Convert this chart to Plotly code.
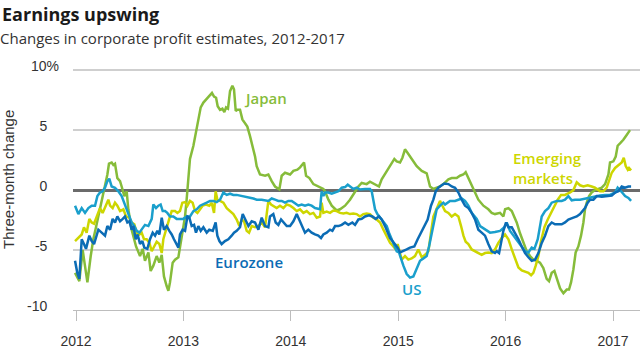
import plotly.graph_objects as go

# ---- data (decimal years, % three-month change) ----
japan_t = [2011.991, 2012.031, 2012.062, 2012.106, 2012.137, 2012.161, 2012.186, 2012.208, 2012.239, 2012.270,
           2012.292, 2012.307, 2012.332, 2012.348, 2012.363, 2012.385, 2012.410, 2012.425, 2012.450, 2012.472,
           2012.487, 2012.518, 2012.559, 2012.596, 2012.621, 2012.642, 2012.674, 2012.695, 2012.720, 2012.751,
           2012.776, 2012.798, 2012.819, 2012.844, 2012.860, 2012.875, 2012.900, 2012.922, 2012.953, 2012.975,
           2012.993, 2013.015, 2013.030, 2013.046, 2013.061, 2013.093, 2013.117, 2013.139, 2013.161, 2013.186,
           2013.217, 2013.248, 2013.266, 2013.285, 2013.304, 2013.319, 2013.341, 2013.363, 2013.381, 2013.397,
           2013.415, 2013.434, 2013.456, 2013.471, 2013.487, 2013.502, 2013.527, 2013.549, 2013.570, 2013.595,
           2013.620, 2013.645, 2013.667, 2013.682, 2013.713, 2013.760, 2013.791, 2013.822, 2013.853, 2013.893,
           2013.915, 2013.946, 2013.993, 2014.024, 2014.061, 2014.086, 2014.123, 2014.142, 2014.173, 2014.210,
           2014.256, 2014.303, 2014.318, 2014.350, 2014.381, 2014.427, 2014.458, 2014.505, 2014.551, 2014.598,
           2014.629, 2014.660, 2014.706, 2014.737, 2014.768, 2014.800, 2014.821, 2014.846, 2014.883, 2014.924,
           2014.964, 2014.986, 2015.017, 2015.039, 2015.063, 2015.088, 2015.125, 2015.172, 2015.219, 2015.265,
           2015.296, 2015.327, 2015.358, 2015.389, 2015.420, 2015.467, 2015.498, 2015.544, 2015.575, 2015.606,
           2015.628, 2015.653, 2015.684, 2015.715, 2015.746, 2015.793, 2015.839, 2015.870, 2015.901, 2015.948,
           2015.979, 2015.995, 2016.026, 2016.057, 2016.081, 2016.103, 2016.134, 2016.165, 2016.196, 2016.227,
           2016.258, 2016.289, 2016.320, 2016.351, 2016.367, 2016.382, 2016.404, 2016.429, 2016.454, 2016.476,
           2016.507, 2016.538, 2016.569, 2016.590, 2016.609, 2016.631, 2016.652, 2016.677, 2016.702, 2016.724,
           2016.739, 2016.755, 2016.777, 2016.801, 2016.832, 2016.864, 2016.895, 2016.926, 2016.957, 2016.972,
           2017.003, 2017.025, 2017.043, 2017.065, 2017.096, 2017.127, 2017.158]
japan_v = [-6.9, -7.6, -5.0, -7.7, -5.5, -4.1, -3.1, -2.2, -0.8, 0.3,
           1.3, 2.2, 2.3, 2.1, 2.2, 1.0, 0.75, 0.3, -0.5, -0.1,
           -1.6, -3.3, -4.7, -5.5, -4.9, -5.9, -5.2, -6.75, -6.3, -5.5,
           -6.05, -5.4, -7.2, -8.0, -8.4, -7.7, -6.05, -5.8, -5.6, -4.4,
           -3.3, -2.2, -0.8, 1.2, 2.6, 3.7, 4.8, 5.9, 6.9, 7.3,
           7.6, 7.9, 8.1, 7.8, 7.7, 7.0, 6.7, 6.8, 6.5, 6.9,
           6.8, 8.25, 8.7, 8.4, 6.6, 6.7, 6.7, 5.9, 5.6, 5.3,
           4.5, 3.7, 2.8, 2.0, 1.3, 1.2, 1.3, 0.75, 0.3, 0.06,
           1.2, 1.45, 1.3, 1.6, 1.7, 1.9, 2.3, 1.2, 1.0, 0.5,
           0.3, 0.1, -0.1, -0.8, -1.3, -1.7, -1.6, -1.3, -0.8, -0.1,
           0.3, 0.6, 0.5, 0.7, 0.55, 0.4, 0.3, 0.9, 1.4, 2.0,
           2.6, 2.4, 2.3, 2.7, 3.4, 3.1, 2.6, 2.0, 1.6, 1.4,
           0.3, 0.1, 0.2, 0.3, 0.5, 0.9, 1.0, 1.0, 1.2, 1.3,
           1.5, 1.0, 0.5, -0.2, -0.8, -1.3, -1.6, -1.9, -2.0, -1.9,
           -2.2, -1.6, -1.5, -1.75, -2.2, -2.7, -3.6, -4.4, -5.1, -5.5,
           -5.8, -5.9, -6.05, -6.5, -6.9, -7.4, -7.6, -6.9, -6.75, -7.4,
           -8.2, -8.6, -8.3, -8.3, -7.7, -6.6, -5.2, -4.7, -3.8, -2.7,
           -1.6, -1.05, -0.5, -0.2, 0.0, 0.1, 0.2, 0.5, 1.3, 2.3,
           2.4, 2.8, 3.7, 3.9, 4.2, 4.6, 5.0]

us_t = [2011.991, 2012.022, 2012.053, 2012.084, 2012.115, 2012.146, 2012.177, 2012.199, 2012.223, 2012.248,
        2012.270, 2012.292, 2012.310, 2012.332, 2012.363, 2012.394, 2012.425, 2012.447, 2012.472, 2012.497,
        2012.518, 2012.543, 2012.565, 2012.590, 2012.611, 2012.642, 2012.674, 2012.705, 2012.720, 2012.745,
        2012.767, 2012.788, 2012.807, 2012.829, 2012.850, 2012.875, 2012.906, 2012.937, 2012.968, 2012.999,
        2013.030, 2013.061, 2013.093, 2013.124, 2013.155, 2013.186, 2013.217, 2013.248, 2013.279, 2013.310,
        2013.341, 2013.372, 2013.403, 2013.434, 2013.465, 2013.496, 2013.527, 2013.558, 2013.589, 2013.620,
        2013.651, 2013.682, 2013.729, 2013.791, 2013.822, 2013.853, 2013.884, 2013.915, 2013.946, 2013.977,
        2014.008, 2014.039, 2014.070, 2014.101, 2014.132, 2014.163, 2014.194, 2014.225, 2014.256, 2014.272,
        2014.287, 2014.303, 2014.318, 2014.350, 2014.381, 2014.412, 2014.443, 2014.474, 2014.505, 2014.530,
        2014.551, 2014.582, 2014.613, 2014.644, 2014.691, 2014.737, 2014.753, 2014.769, 2014.784, 2014.806,
        2014.831, 2014.862, 2014.893, 2014.914, 2014.939, 2014.964, 2014.986, 2015.007, 2015.026, 2015.048,
        2015.079, 2015.110, 2015.141, 2015.172, 2015.203, 2015.234, 2015.265, 2015.287, 2015.312, 2015.336,
        2015.358, 2015.389, 2015.420, 2015.436, 2015.482, 2015.529, 2015.560, 2015.591, 2015.622, 2015.653,
        2015.684, 2015.731, 2015.762, 2015.808, 2015.855, 2015.901, 2015.948, 2015.988, 2016.010, 2016.041,
        2016.072, 2016.103, 2016.134, 2016.181, 2016.212, 2016.243, 2016.268, 2016.299, 2016.336, 2016.367,
        2016.398, 2016.429, 2016.476, 2016.522, 2016.553, 2016.584, 2016.615, 2016.646, 2016.693, 2016.739,
        2016.786, 2016.832, 2016.879, 2016.926, 2016.972, 2017.019, 2017.043, 2017.075, 2017.112, 2017.143,
        2017.168]
us_v = [-1.3, -2.0, -1.5, -1.9, -1.5, -1.3, -1.3, -0.5, -0.2, -0.1,
        0.2, 0.75, 0.95, 0.3, 0.2, -0.1, -0.5, -1.05, -1.5, -2.2,
        -2.7, -3.0, -3.4, -3.55, -3.3, -2.9, -3.0, -2.4, -1.2, -1.5,
        -1.3, -1.2, -1.75, -1.75, -1.9, -2.2, -2.2, -2.4, -2.4, -2.4,
        -2.2, -2.2, -1.75, -1.6, -1.3, -1.2, -1.05, -0.9, -0.9, -1.0,
        -0.8, -0.2, -0.4, -0.3, -0.4, -0.4, -0.45, -0.5, -0.6, -0.6,
        -0.7, -0.8, -0.8, -0.9, -0.7, -0.8, -0.9, -0.9, -1.05, -0.9,
        -0.9, -1.1, -1.3, -1.2, -1.3, -1.2, -1.3, -1.5, -1.55, -1.6,
        -0.1, -0.5, -0.2, -0.2, -0.3, -0.2, -0.1, 0.2, 0.25, 0.45,
        0.3, 0.1, 0.2, 0.05, 0.1, 0.1, -0.1, -0.8, -1.6, -2.0,
        -2.3, -2.6, -3.0, -3.55, -4.1, -4.7, -5.1, -5.2, -5.8, -6.3,
        -7.0, -7.3, -7.2, -6.6, -5.9, -5.7, -5.5, -4.7, -3.55, -2.4,
        -1.6, -1.3, -1.05, -1.2, -0.9, -0.9, -0.8, -0.7, -0.9, -1.3,
        -1.9, -2.4, -3.0, -3.3, -3.55, -3.5, -3.4, -3.1, -2.7, -3.4,
        -3.8, -4.1, -4.5, -5.1, -5.2, -4.8, -4.9, -4.1, -2.2, -1.75,
        -1.5, -1.05, -0.9, -0.9, -0.8, -0.5, -0.85, -0.8, -0.8, -0.7,
        -0.6, -0.5, -0.45, -0.4, -0.4, -0.2, 0.2, -0.1, -0.5, -0.65,
        -0.9]

euro_t = [2011.991, 2012.012, 2012.031, 2012.053, 2012.074, 2012.093, 2012.124, 2012.146, 2012.168, 2012.192,
          2012.208, 2012.239, 2012.270, 2012.292, 2012.317, 2012.341, 2012.363, 2012.385, 2012.410, 2012.435,
          2012.456, 2012.478, 2012.497, 2012.518, 2012.534, 2012.556, 2012.574, 2012.596, 2012.618, 2012.636,
          2012.664, 2012.689, 2012.714, 2012.736, 2012.757, 2012.776, 2012.798, 2012.819, 2012.844, 2012.869,
          2012.891, 2012.912, 2012.937, 2012.953, 2012.968, 2012.993, 2013.015, 2013.037, 2013.055, 2013.077,
          2013.099, 2013.117, 2013.139, 2013.161, 2013.186, 2013.217, 2013.241, 2013.273, 2013.300, 2013.316,
          2013.335, 2013.356, 2013.387, 2013.418, 2013.449, 2013.471, 2013.496, 2013.527, 2013.552, 2013.574,
          2013.605, 2013.636, 2013.667, 2013.698, 2013.729, 2013.760, 2013.791, 2013.806, 2013.837, 2013.859,
          2013.884, 2013.909, 2013.931, 2013.962, 2013.993, 2014.024, 2014.055, 2014.076, 2014.101, 2014.132,
          2014.163, 2014.194, 2014.225, 2014.256, 2014.281, 2014.303, 2014.334, 2014.365, 2014.387, 2014.412,
          2014.443, 2014.474, 2014.505, 2014.536, 2014.573, 2014.598, 2014.629, 2014.660, 2014.691, 2014.728,
          2014.759, 2014.790, 2014.821, 2014.846, 2014.877, 2014.902, 2014.924, 2014.946, 2014.970, 2014.995,
          2015.017, 2015.048, 2015.079, 2015.110, 2015.150, 2015.181, 2015.212, 2015.243, 2015.274, 2015.305,
          2015.327, 2015.349, 2015.374, 2015.405, 2015.430, 2015.467, 2015.498, 2015.529, 2015.560, 2015.591,
          2015.622, 2015.653, 2015.684, 2015.715, 2015.746, 2015.777, 2015.808, 2015.839, 2015.870, 2015.901,
          2015.917, 2015.939, 2015.957, 2015.979, 2016.004, 2016.026, 2016.057, 2016.088, 2016.119, 2016.150,
          2016.181, 2016.212, 2016.243, 2016.274, 2016.305, 2016.336, 2016.367, 2016.398, 2016.429, 2016.460,
          2016.522, 2016.553, 2016.584, 2016.631, 2016.662, 2016.693, 2016.715, 2016.739, 2016.764, 2016.786,
          2016.817, 2016.848, 2016.895, 2016.941, 2016.988, 2017.019, 2017.050, 2017.081, 2017.112, 2017.143,
          2017.168]
euro_v = [-5.9, -6.9, -7.4, -4.1, -4.5, -4.9, -3.8, -4.25, -4.5, -3.7,
          -3.3, -3.55, -3.8, -3.0, -3.3, -2.4, -2.7, -2.2, -2.6, -2.4,
          -2.2, -2.7, -2.6, -3.3, -3.0, -4.1, -3.7, -4.5, -4.25, -4.8,
          -4.9, -4.1, -3.55, -3.8, -3.4, -3.7, -2.3, -3.3, -3.0, -3.4,
          -3.7, -4.1, -4.5, -4.8, -3.7, -3.3, -3.4, -2.2, -2.3, -3.0,
          -2.9, -3.55, -3.0, -3.4, -3.1, -3.55, -3.3, -3.4, -2.7, -3.8,
          -4.25, -4.5, -4.25, -4.1, -3.8, -3.55, -3.4, -3.1, -2.0, -2.45,
          -3.0, -2.6, -2.7, -3.3, -2.3, -3.0, -3.1, -2.2, -2.0, -2.7,
          -2.9, -2.45, -2.7, -3.0, -3.0, -2.6, -2.0, -2.45, -3.0, -3.55,
          -3.3, -3.55, -3.7, -3.8, -4.0, -3.7, -3.55, -3.3, -3.4, -3.0,
          -3.0, -2.9, -2.7, -2.9, -2.7, -2.9, -2.45, -2.4, -2.2, -2.1,
          -2.2, -2.4, -2.2, -2.45, -3.0, -3.55, -4.0, -4.25, -4.5, -4.8,
          -5.2, -5.1, -4.95, -4.8, -4.7, -4.1, -3.55, -3.1, -2.45, -1.3,
          -0.8, -0.1, 0.2, 0.4, 0.55, 0.5, 0.3, 0.2, -0.2, -0.8,
          -1.3, -1.5, -1.9, -2.45, -3.3, -3.55, -3.8, -4.5, -5.1, -5.25,
          -5.1, -5.25, -4.25, -3.4, -2.7, -3.1, -3.1, -3.55, -4.1, -4.7,
          -5.25, -5.6, -5.9, -5.8, -5.25, -4.4, -3.8, -3.0, -2.7, -2.85,
          -2.85, -2.7, -2.45, -2.3, -2.2, -2.0, -1.75, -1.5, -1.05, -0.8,
          -0.8, -0.5, -0.55, -0.5, -0.45, -0.2, -0.1, 0.3, 0.2, 0.3,
          0.3]

em_t = [2011.991, 2012.022, 2012.053, 2012.074, 2012.099, 2012.124, 2012.146, 2012.168, 2012.192, 2012.223,
        2012.248, 2012.279, 2012.301, 2012.317, 2012.341, 2012.363, 2012.385, 2012.410, 2012.441, 2012.466,
        2012.497, 2012.518, 2012.543, 2012.565, 2012.590, 2012.611, 2012.633, 2012.658, 2012.683, 2012.705,
        2012.726, 2012.751, 2012.776, 2012.798, 2012.813, 2012.838, 2012.860, 2012.875, 2012.891, 2012.922,
        2012.944, 2012.968, 2012.990, 2013.015, 2013.037, 2013.061, 2013.086, 2013.108, 2013.130, 2013.155,
        2013.179, 2013.210, 2013.241, 2013.263, 2013.285, 2013.300, 2013.316, 2013.341, 2013.372, 2013.403,
        2013.434, 2013.465, 2013.496, 2013.521, 2013.543, 2013.564, 2013.589, 2013.611, 2013.636, 2013.667,
        2013.698, 2013.729, 2013.760, 2013.791, 2013.816, 2013.837, 2013.868, 2013.899, 2013.931, 2013.962,
        2013.993, 2014.024, 2014.055, 2014.086, 2014.117, 2014.148, 2014.179, 2014.210, 2014.241, 2014.272,
        2014.287, 2014.303, 2014.334, 2014.365, 2014.396, 2014.427, 2014.458, 2014.489, 2014.520, 2014.551,
        2014.582, 2014.613, 2014.644, 2014.675, 2014.706, 2014.737, 2014.768, 2014.800, 2014.831, 2014.862,
        2014.893, 2014.924, 2014.955, 2014.977, 2014.995, 2015.017, 2015.032, 2015.063, 2015.094, 2015.125,
        2015.156, 2015.187, 2015.219, 2015.250, 2015.281, 2015.305, 2015.327, 2015.349, 2015.368, 2015.389,
        2015.411, 2015.436, 2015.467, 2015.498, 2015.529, 2015.560, 2015.585, 2015.607, 2015.628, 2015.653,
        2015.684, 2015.715, 2015.746, 2015.777, 2015.808, 2015.839, 2015.870, 2015.901, 2015.932, 2015.963,
        2015.995, 2016.026, 2016.057, 2016.088, 2016.119, 2016.150, 2016.181, 2016.212, 2016.237, 2016.258,
        2016.280, 2016.305, 2016.330, 2016.361, 2016.392, 2016.423, 2016.454, 2016.485, 2016.516, 2016.553,
        2016.600, 2016.631, 2016.662, 2016.693, 2016.724, 2016.764, 2016.801, 2016.832, 2016.879, 2016.910,
        2016.941, 2016.963, 2016.988, 2017.019, 2017.050, 2017.081, 2017.100, 2017.118, 2017.137, 2017.149,
        2017.168]
em_v = [-4.25, -4.0, -3.7, -3.1, -3.55, -2.4, -2.7, -2.8, -2.3, -1.5,
        -1.9, -1.2, -0.8, -1.3, -1.5, -1.05, -1.3, -1.75, -1.6, -2.2,
        -2.3, -2.7, -2.85, -3.55, -3.7, -3.55, -4.1, -4.1, -4.4, -5.1,
        -4.7, -4.3, -4.5, -5.25, -4.1, -3.3, -2.45, -2.2, -1.75, -1.75,
        -1.9, -1.75, -1.05, -1.0, -1.3, -0.9, -1.05, -1.75, -1.9, -1.6,
        -1.3, -1.2, -1.3, -1.05, -1.9, -0.1, -0.8, -0.9, -1.05, -1.5,
        -1.75, -2.0, -2.45, -3.0, -2.45, -2.6, -3.4, -3.55, -3.0, -3.1,
        -3.0, -2.7, -3.1, -0.9, -1.2, -1.3, -1.5, -1.3, -1.5, -1.2,
        -1.3, -1.5, -1.75, -1.6, -1.9, -1.75, -2.0, -1.9, -2.3, -2.2,
        -1.05, -1.9, -1.8, -1.9, -1.7, -1.75, -1.9, -1.95, -1.9, -2.0,
        -1.95, -2.0, -2.2, -2.0, -1.95, -2.0, -2.3, -2.45, -2.7, -3.3,
        -3.8, -4.4, -4.7, -4.95, -4.5, -5.4, -5.8, -5.5, -5.8, -5.7,
        -5.5, -4.95, -5.6, -5.4, -5.1, -3.55, -2.2, -1.75, -1.3, -0.9,
        -1.3, -1.75, -1.9, -2.2, -2.0, -2.2, -3.0, -3.8, -4.3, -4.5,
        -4.95, -5.1, -5.25, -5.4, -5.25, -5.2, -5.25, -4.95, -4.4, -4.0,
        -3.7, -4.1, -4.95, -5.75, -6.45, -6.7, -6.8, -6.9, -7.1, -6.9,
        -6.3, -5.5, -4.25, -3.1, -2.45, -1.9, -1.3, -0.8, -0.4, -0.4,
        -0.2, 0.0, 0.65, 0.4, 0.3, 0.4, 0.3, 0.2, -0.1, -0.1,
        0.2, 0.75, 1.45, 1.85, 2.05, 2.3, 2.7, 2.0, 1.7, 1.85,
        1.65]

year_ticks = [2012, 2013, 2014, 2015, 2016, 2017]
year_labels = ["2012", "2013", "2014", "2015", "2016", "2017"]
y_ticks = [-10, -5, 0, 5, 10]
y_labels = ["-10", "-5", "0", "5", "10%"]

C_JAPAN = "#86bc3a"
C_EM = "#cdd600"
C_US = "#1a9fcc"
C_EURO = "#0b6cb5"

fig = go.Figure()
for name, t, v, c in [("Japan", japan_t, japan_v, C_JAPAN),
                      ("Emerging markets", em_t, em_v, C_EM),
                      ("US", us_t, us_v, C_US),
                      ("Eurozone", euro_t, euro_v, C_EURO)]:
    fig.add_trace(go.Scatter(x=t, y=v, mode="lines", name=name,
                             line=dict(color=c, width=2.5), hoverinfo="skip"))

W, H = 640, 360
ML, MR, MT, MB = 73, 0, 69, 50
PW, PH = W - ML - MR, H - MT - MB


def px(x):
    return (x - ML) / PW


def py(y):
    return (H - MB - y) / PH


pad = "\u00a0\u00a0\u00a0"
fig.update_layout(
    width=W, height=H,
    margin=dict(l=ML, r=MR, t=MT, b=MB),
    paper_bgcolor="white", plot_bgcolor="white",
    showlegend=False,
    xaxis=dict(range=[2011.972, 2017.251], tickvals=year_ticks, ticktext=year_labels,
               showgrid=False, zeroline=False, showline=True, linecolor="#bdbdbd", linewidth=1,
               ticks="outside", ticklen=10, tickcolor="#bdbdbd", tickwidth=1,
               ticklabelstandoff=8,
               tickfont=dict(family="Liberation Sans, Arial", size=14, color="#333333")),
    yaxis=dict(range=[-10, 10.1], tickvals=y_ticks,
               ticktext=[lab if lab.endswith("%") else lab + pad for lab in y_labels],
               showgrid=True, gridcolor="#cfcfcf", gridwidth=1.5,
               zeroline=True, zerolinecolor="#6b6b6b", zerolinewidth=2.5,
               showline=False, ticks="", ticklabelstandoff=13, ticklabelshift=-4,
               tickfont=dict(family="Liberation Sans, Arial", size=14, color="#333333")),
)

ann_font = dict(family="Open Sans", size=15, weight=600)
fig.add_annotation(xref="paper", yref="paper", x=px(0), y=py(14), xanchor="left", yanchor="middle",
                   text="<b>Earnings upswing</b>", showarrow=False,
                   font=dict(family="Open Sans", size=18, color="#1a1a1a"))
fig.add_annotation(xref="paper", yref="paper", x=px(-2), y=py(38), xanchor="left", yanchor="middle",
                   text="Changes in corporate profit estimates, 2012-2017", showarrow=False,
                   font=dict(family="Open Sans", size=15, color="#333333"))
fig.add_annotation(xref="paper", yref="paper", x=px(8), y=py(180), textangle=-90,
                   xanchor="center", yanchor="middle", text="Three-month change", showarrow=False,
                   font=dict(family="Liberation Sans, Arial", size=15, color="#333333"))

fig.add_annotation(x=2013.76, y=7.7, text="Japan", showarrow=False, xanchor="center", yanchor="middle",
                   font=dict(color=C_JAPAN, **ann_font))
fig.add_annotation(x=2013.606, y=-6.03, text="Eurozone", showarrow=False, xanchor="center", yanchor="middle",
                   font=dict(color=C_EURO, **ann_font))
fig.add_annotation(x=2015.128, y=-8.27, text="US", showarrow=False, xanchor="center", yanchor="middle",
                   font=dict(color=C_US, **ann_font))
fig.add_annotation(x=2016.047, y=1.83, text="Emerging<br>markets", showarrow=False, xanchor="left",
                   yanchor="middle", align="left", font=dict(color=C_EM, **ann_font))

# the page is photographed from its top-left corner, so drop the browser's default body margin
fig.write_html("out.html", config={"displayModeBar": False},
               post_script="document.body.style.margin='0';")
